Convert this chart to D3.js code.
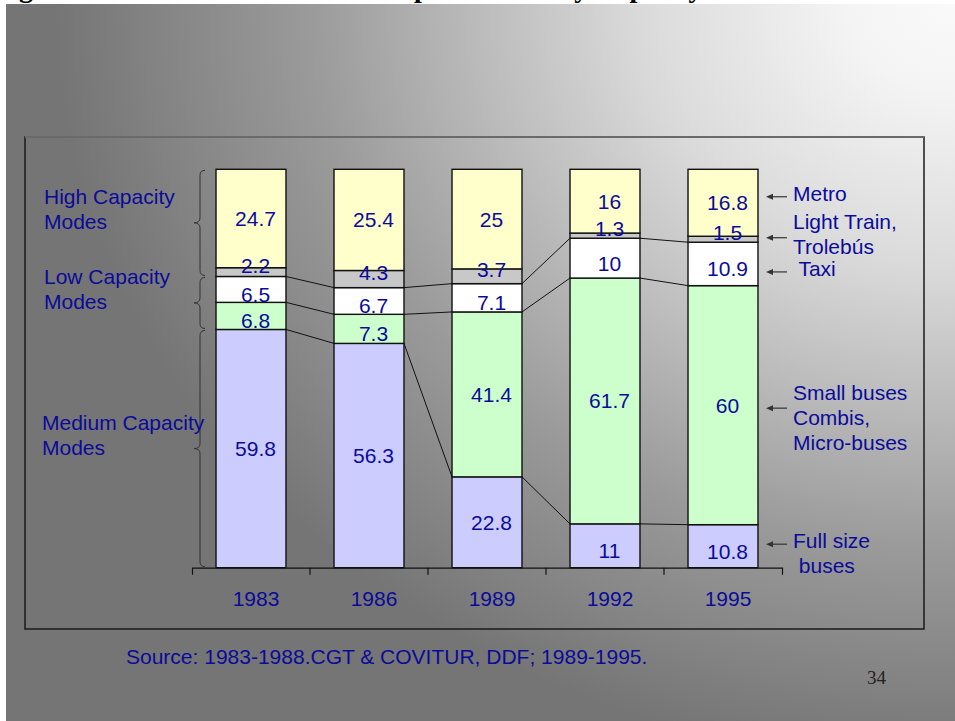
<!DOCTYPE html>
<html>
<head>
<meta charset="utf-8">
<script src="https://cdn.jsdelivr.net/npm/d3@7"></script>
<style>
  body { margin: 0; background: #fff; }
  svg { display: block; }
  text { font-family: "Liberation Sans", Arial, sans-serif; }
</style>
</head>
<body>
<script>
// shares of public transport trips (%) by mode, Mexico City
const years = ["1983", "1986", "1989", "1992", "1995"];
const fullSizeBuses = [59.8, 56.3, 22.8, 11, 10.8];
const smallBuses = [6.8, 7.3, 41.4, 61.7, 60];
const taxi = [6.5, 6.7, 7.1, 10, 10.9];
const lightTrain = [2.2, 4.3, 3.7, 1.3, 1.5];
const metro = [24.7, 25.4, 25, 16, 16.8];

const groupLabels = [["High Capacity", "Modes"], ["Low Capacity", "Modes"], ["Medium Capacity", "Modes"]];
const sourceText = "Source: 1983-1988.CGT & COVITUR, DDF; 1989-1995.";
const titleText = "Figure 7. Evolution of Public Transport Modes by Capacity";

const keys = ["full", "small", "taxi", "light", "metro"];
const colors = { full: "#ccccff", small: "#ccffcc", taxi: "#ffffff", light: "#c8c8c8", metro: "#ffffcc" };
const navy = "#0b0b9a";

// right side notes: arrow offset from the 1995 segment centre, and which line the arrow points from
const notes = [
  { key: "metro", lines: ["Metro"], dy: -6, anchor: 0 },
  { key: "light", lines: ["Light Train,", "Trolebús"], dy: -1.5, anchor: 0.5 },
  { key: "taxi", lines: [" Taxi"], dy: 8, anchor: 0 },
  { key: "small", lines: ["Small buses", "Combis,", "Micro-buses"], dy: 3, anchor: 0.5 },
  { key: "full", lines: ["Full size", " buses"], dy: -2, anchor: 0 }
];

const table = years.map((yr, i) => ({
  year: yr,
  full: fullSizeBuses[i],
  small: smallBuses[i],
  taxi: taxi[i],
  light: lightTrain[i],
  metro: metro[i]
}));

const W = 955, H = 721;
const svg = d3.select("body").append("svg").attr("width", W).attr("height", H);

// slide background
const grad = svg.append("defs").append("radialGradient")
  .attr("id", "bg")
  .attr("gradientUnits", "userSpaceOnUse")
  .attr("cx", 955).attr("cy", 0).attr("r", 900)
  .attr("gradientTransform", "translate(955,0) scale(1,0.85) translate(-955,0)");
[[0, "#fafafa"], [0.12, "#f4f4f4"], [0.35, "#dadada"], [0.52, "#bdbdbd"], [0.72, "#9a9a9a"], [1, "#757575"]]
  .forEach(([o, c]) => grad.append("stop").attr("offset", o).attr("stop-color", c));

svg.append("rect").attr("width", W).attr("height", H).attr("fill", "#fff");
svg.append("text")
  .attr("x", -6).attr("y", -3)
  .style("font-family", "'Liberation Serif', 'Times New Roman', serif")
  .style("font-weight", "bold").style("font-size", "28px")
  .attr("fill", "#000")
  .text(titleText);
svg.append("rect").attr("x", 6).attr("y", 4).attr("width", W - 6).attr("height", H - 4).attr("fill", "url(#bg)");

// chart frame
svg.append("rect")
  .attr("x", 25).attr("y", 137).attr("width", 899).attr("height", 492)
  .attr("fill", "none").attr("stroke", "#1a1a1a").attr("stroke-width", 1.5);
svg.append("line")
  .attr("x1", 25).attr("x2", 924).attr("y1", 137).attr("y2", 137)
  .attr("stroke", "#6a6a6a").attr("stroke-width", 2);

const x = d3.scaleBand()
  .domain(years)
  .range([192, 782])
  .paddingInner(0.407)
  .paddingOuter(0.2035);

const y = d3.scaleLinear()
  .domain([0, 100])
  .range([567.7, 169.3]);

const bw = x.bandwidth();
const step = x.step();

const stacked = d3.stack().keys(keys)(table);
const byKey = {};
stacked.forEach(s => { byKey[s.key] = s; });

// series lines between bars
const lineKeys = ["full", "small", "taxi"];
const links = [];
lineKeys.forEach(k => {
  for (let i = 0; i < years.length - 1; i++) {
    links.push({ x1: x(years[i]) + bw, y1: y(byKey[k][i][1]), x2: x(years[i + 1]), y2: y(byKey[k][i + 1][1]) });
  }
});
svg.append("g")
  .selectAll("line")
  .data(links)
  .enter()
  .append("line")
    .attr("x1", d => d.x1).attr("y1", d => d.y1)
    .attr("x2", d => d.x2).attr("y2", d => d.y2)
    .attr("stroke", "#111").attr("stroke-width", 1);

// bars
svg.append("g")
  .selectAll("g")
  .data(stacked)
  .enter()
  .append("g")
    .attr("fill", d => colors[d.key])
  .selectAll("rect")
  .data(d => d)
  .enter()
  .append("rect")
    .attr("x", d => x(d.data.year))
    .attr("y", d => y(d[1]))
    .attr("width", bw)
    .attr("height", d => y(d[0]) - y(d[1]))
    .attr("stroke", "#111")
    .attr("stroke-width", 1.4);

// value labels, drawn over every bar so the thin ones stay readable
const labelData = [];
stacked.forEach(s => s.forEach(p => labelData.push({ key: s.key, year: p.data.year, v: p.data[s.key], y0: p[0], y1: p[1] })));
svg.append("g")
  .selectAll("text")
  .data(labelData)
  .enter()
  .append("text")
    .attr("x", d => x(d.year) + bw / 2 + 4.5)
    .attr("y", d => {
      const h = y(d.y0) - y(d.y1);
      const nudge = h < 50 ? (d.key === "light" ? -7 : 5) : 0;
      return (y(d.y0) + y(d.y1)) / 2 + 7.5 + nudge;
    })
    .attr("text-anchor", "middle")
    .attr("fill", navy)
    .style("font-size", "21px")
    .text(d => String(d.v));

// axis
const axis = svg.append("g")
  .attr("transform", "translate(0,567.7)")
  .call(d3.axisBottom(x).tickSize(0).tickSizeOuter(7).tickPadding(0));
axis.select(".domain").attr("stroke", "#111").attr("stroke-width", 1.2);
axis.selectAll(".tick text")
  .attr("dy", null)
  .attr("y", 38.8)
  .attr("x", 5)
  .attr("fill", navy)
  .style("font-size", "21px")
  .style("font-family", "'Liberation Sans', Arial, sans-serif");
axis.selectAll(".inner")
  .data(years.slice(0, -1))
  .enter()
  .append("line")
    .attr("x1", d => x(d) + bw + (step - bw) / 2)
    .attr("x2", d => x(d) + bw + (step - bw) / 2)
    .attr("y1", 0).attr("y2", 7)
    .attr("stroke", "#111").attr("stroke-width", 1.2);

// braces on the left, from the 1983 stack
const braceX = x(years[0]) - 16;
const braceSpans = [
  [y(100), y(byKey.light[0][0])],
  [y(byKey.taxi[0][1]), y(byKey.full[0][1])],
  [y(byKey.full[0][1]), y(0)]
];
const bracePath = (bx, y0, y1) => {
  const m = (y0 + y1) / 2, r = 5;
  return `M${bx + 5},${y0} Q${bx},${y0} ${bx},${y0 + r} L${bx},${m - r} Q${bx},${m} ${bx - 6},${m}`
    + ` Q${bx},${m} ${bx},${m + r} L${bx},${y1 - r} Q${bx},${y1} ${bx + 5},${y1}`;
};
svg.append("g")
  .selectAll("path")
  .data(braceSpans)
  .enter()
  .append("path")
    .attr("d", d => bracePath(braceX, d[0] + 1, d[1] - 1))
    .attr("fill", "none")
    .attr("stroke", "#333")
    .attr("stroke-width", 1);

const groupText = svg.append("g")
  .selectAll("text")
  .data(braceSpans)
  .enter()
  .append("text")
    .attr("fill", navy)
    .style("font-size", "21px");
groupText.selectAll("tspan")
  .data((d, i) => groupLabels[i].map((t, j) => ({ t, j, mid: (d[0] + d[1]) / 2, g: i })))
  .enter()
  .append("tspan")
    .attr("x", d => d.g === 2 ? 42 : 44)
    .attr("y", d => d.mid - 19 + d.j * 25)
    .text(d => d.t);

// right-side notes with arrows
const last = years.length - 1;
const tipX = x(years[last]) + bw + 8;
const noteG = svg.append("g")
  .selectAll("g")
  .data(notes)
  .enter()
  .append("g")
    .attr("transform", d => {
      const s = byKey[d.key][last];
      return `translate(0,${(y(s[0]) + y(s[1])) / 2 + d.dy})`;
    });
noteG.append("line")
  .attr("x1", tipX + 4).attr("x2", tipX + 21)
  .attr("y1", 0).attr("y2", 0)
  .attr("stroke", "#333").attr("stroke-width", 1.2);
noteG.append("path")
  .attr("d", `M${tipX},0 L${tipX + 7},-3 L${tipX + 7},3 Z`)
  .attr("fill", "#333");
noteG.append("text")
  .attr("fill", navy)
  .style("font-size", "21px")
  .style("white-space", "pre")
  .selectAll("tspan")
  .data(d => d.lines.map((t, j) => ({ t, j, anchor: d.anchor })))
  .enter()
  .append("tspan")
    .attr("x", tipX + 27)
    .attr("y", d => 4 - d.anchor * 25 + d.j * 25)
    .text(d => d.t);

// source and page number
svg.append("text")
  .attr("x", 126).attr("y", 664)
  .attr("fill", navy)
  .style("font-size", "21px")
  .text(sourceText);
svg.append("text")
  .attr("x", 867).attr("y", 684)
  .attr("fill", "#222")
  .style("font-family", "'Liberation Serif', 'Times New Roman', serif")
  .style("font-size", "19px")
  .text("34");
</script>
</body>
</html>
